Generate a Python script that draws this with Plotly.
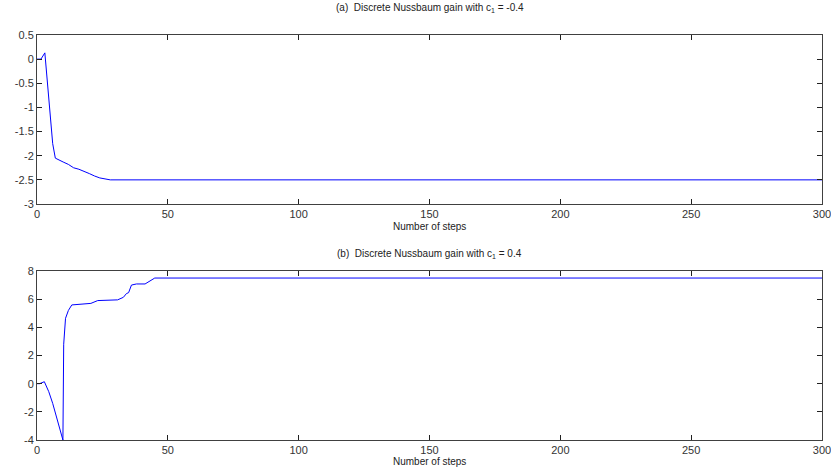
import plotly.graph_objects as go
from plotly.subplots import make_subplots

# Data
steps_a = [0, 1, 1.5, 3, 4, 5, 6, 7, 8, 10, 12, 14, 16, 18, 20, 22, 24, 26, 28, 300]
gain_a = [0, 0, 0, 0.13, -0.5, -1.2, -1.75, -2.05, -2.08, -2.13, -2.18, -2.25, -2.28, -2.32,
          -2.37, -2.42, -2.46, -2.48, -2.5, -2.5]

steps_b = [0, 1, 2.8, 4.5, 6, 7.4, 9.9, 10.2, 10.9, 12, 13.3, 20.6, 23.2, 30.8, 33, 34.2, 35,
           36.1, 38, 41.3, 42.5, 45, 300]
gain_b = [0, 0, 0.14, -0.57, -1.4, -2.3, -4, 2.8, 4.64, 5.2, 5.59, 5.7, 5.9, 5.95, 6.13, 6.4,
          6.46, 7.0, 7.08, 7.08, 7.2, 7.5, 7.5]

x_ticks = [0, 50, 100, 150, 200, 250, 300]
x_ticklabels = ["0", "50", "100", "150", "200", "250", "300"]
y_ticks_a = [0.5, 0, -0.5, -1, -1.5, -2, -2.5, -3]
y_ticklabels_a = ["0.5", "0", "-0.5", "-1", "-1.5", "-2", "-2.5", "-3"]
y_ticks_b = [8, 6, 4, 2, 0, -2, -4]
y_ticklabels_b = ["8", "6", "4", "2", "0", "-2", "-4"]

title_a = "(a)  Discrete Nussbaum gain with c<sub>1</sub> = -0.4"
title_b = "(b)  Discrete Nussbaum gain with c<sub>1</sub> = 0.4"
xlabel = "Number of steps"

fig = make_subplots(rows=2, cols=1)
fig.add_trace(go.Scatter(x=steps_a, y=gain_a, mode="lines",
                         line=dict(color="#0000ff", width=1)), row=1, col=1)
fig.add_trace(go.Scatter(x=steps_b, y=gain_b, mode="lines",
                         line=dict(color="#0000ff", width=1)), row=2, col=1)

axis_common = dict(showgrid=False, zeroline=False, showline=True, mirror="ticks",
                   linecolor="#404040", linewidth=1, ticks="inside", ticklen=5,
                   tickcolor="#202020", automargin=False, ticklabeloverflow="allow",
                   tickfont=dict(family="Liberation Sans", size=11, color="#333333"))

fig.update_xaxes(range=[0, 300], tickvals=x_ticks, ticktext=x_ticklabels, **axis_common)
fig.update_yaxes(range=[-3, 0.5], tickvals=y_ticks_a, ticktext=y_ticklabels_a,
                 row=1, col=1, **axis_common)
fig.update_yaxes(range=[-4, 8], tickvals=y_ticks_b, ticktext=y_ticklabels_b,
                 row=2, col=1, **axis_common)
fig.update_layout(
    xaxis=dict(domain=[0, 1]), xaxis2=dict(domain=[0, 1]),
    yaxis=dict(domain=[0.5827, 1]), yaxis2=dict(domain=[0, 0.4173]),
)

font_txt = dict(family="Liberation Sans", size=10, color="#222222")
annots = [
    (title_a, 1.0667), (xlabel, 0.526), (title_b, 0.459), (xlabel, -0.054),
]
for txt, yy in annots:
    fig.add_annotation(text=txt, x=0.5, y=yy, xref="paper", yref="paper",
                       xanchor="center", yanchor="middle", showarrow=False, font=font_txt)

fig.update_layout(width=831, height=471, showlegend=False,
                  margin=dict(l=37, r=9, t=35, b=31, autoexpand=False),
                  paper_bgcolor="white", plot_bgcolor="white")
fig.write_html("out.html", config={"displayModeBar": False},
               post_script="document.body.style.margin='0';document.body.style.overflow='hidden';")
